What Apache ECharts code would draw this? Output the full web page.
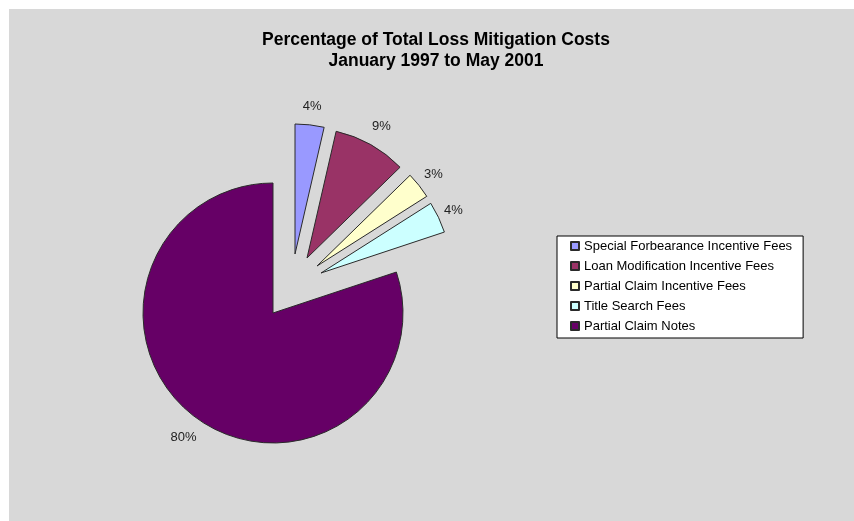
<!DOCTYPE html>
<html>
<head>
<meta charset="utf-8">
<script src="https://cdn.jsdelivr.net/npm/echarts@6/dist/echarts.min.js"></script>
<style>
  html, body { margin: 0; padding: 0; background: #fff; }
  #chart { width: 854px; height: 521px; }
</style>
</head>
<body>
<div id="chart"></div>
<script>
// ---- Data ----
var categories = [
  'Special Forbearance Incentive Fees',
  'Loan Modification Incentive Fees',
  'Partial Claim Incentive Fees',
  'Title Search Fees',
  'Partial Claim Notes'
];
var shares = [3.6, 9.1, 3.3, 3.9, 80.1];
var titleLines = ['Percentage of Total Loss Mitigation Costs', 'January 1997 to May 2001'];

// ---- Styling ----
var colors = ['#9999ff', '#993366', '#ffffcc', '#ccffff', '#660066'];
// pie vertex for each slice (exploded slices are shifted)
var centers = [[295, 254], [307, 258], [317, 266], [321, 273], [273, 313]];
var labelLens = [19, 21, 18, 16, 23];
var FONT = '"Liberation Sans", Arial, sans-serif';

function sliceSeries(k) {
  return {
    type: 'pie',
    radius: 130,
    center: centers[k],
    startAngle: 90,
    clockwise: true,
    avoidLabelOverlap: false,
    silent: true,
    animation: false,
    z: 2,
    data: shares.map(function (v, i) {
      var on = i === k;
      return {
        value: v,
        name: on ? categories[i] : '',
        itemStyle: on
          ? { color: colors[i], borderColor: '#2a2a2a', borderWidth: 1 }
          : { color: 'transparent', borderWidth: 0 },
        label: {
          show: on,
          position: 'outside',
          distanceToLabelLine: k === 4 ? -13 : -9,
          formatter: function (p) { return Math.round(p.percent) + '%'; },
          color: '#222',
          fontSize: 13,
          fontFamily: FONT
        },
        labelLine: { show: false, length: labelLens[k], length2: 0 }
      };
    })
  };
}

var series = [];
for (var k = 0; k < categories.length; k++) series.push(sliceSeries(k));

var chart = echarts.init(document.getElementById('chart'), null, { renderer: 'canvas' });
chart.setOption({
  backgroundColor: '#ffffff',
  animation: false,
  graphic: [{
    type: 'rect',
    z: -10,
    silent: true,
    shape: { x: 9, y: 9, width: 845, height: 512 },
    style: { fill: '#d8d8d8' }
  }],
  title: {
    text: titleLines.join('\n'),
    left: 436,
    top: 30,
    textAlign: 'center',
    padding: 0,
    textStyle: {
      fontFamily: FONT,
      fontWeight: 'bold',
      fontSize: 17.5,
      lineHeight: 21,
      color: '#000'
    }
  },
  legend: {
    orient: 'vertical',
    left: 557,
    top: 236,
    data: categories,
    selectedMode: false,
    icon: 'rect',
    itemWidth: 8,
    itemHeight: 8,
    itemGap: 6,
    padding: [3, 11, 5, 13],
    backgroundColor: '#ffffff',
    borderColor: '#000',
    borderWidth: 1,
    borderRadius: 0,
    textStyle: {
      fontFamily: FONT,
      fontSize: 13,
      lineHeight: 14,
      color: '#000'
    }
  },
  series: series
});
</script>
</body>
</html>
